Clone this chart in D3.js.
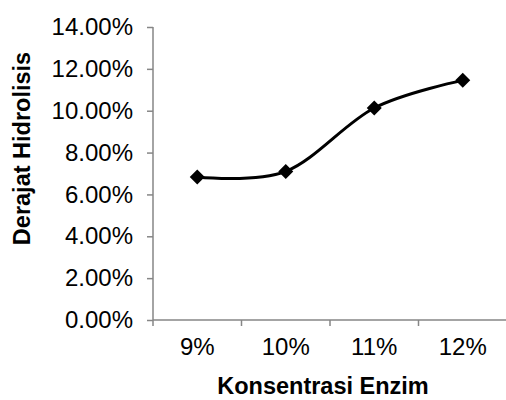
<!DOCTYPE html>
<html><head><meta charset="utf-8">
<script src="https://cdn.jsdelivr.net/npm/d3@7"></script>
<style>body{margin:0;background:#fff}svg{display:block}</style>
</head><body>
<script>
const categories = ["9%", "10%", "11%", "12%"];
const values = [0.0683, 0.0710, 0.1013, 0.1145];
const yTicks = [0, 0.02, 0.04, 0.06, 0.08, 0.10, 0.12, 0.14];
const xTitle = "Konsentrasi Enzim";
const yTitle = "Derajat Hidrolisis";

const W = 506, H = 400;
const m = {left: 153, right: 0, top: 27, bottom: 80};
const svg = d3.select("body").append("svg").attr("width", W).attr("height", H);

const x = d3.scaleBand().domain(categories).range([m.left, W - m.right + 1]);
const y = d3.scaleLinear().domain([0, 0.14]).range([H - m.bottom, m.top]);
const axisColor = "#868686";
const font = "'Liberation Sans', Arial, sans-serif";
const tickFs = 24, titleFs = 23.5;

// Y axis
const yAxis = svg.append("g").attr("transform", `translate(${m.left},0)`)
  .call(d3.axisLeft(y).tickValues(yTicks).tickFormat(d3.format(".2%")).tickSize(6).tickPadding(14));
yAxis.select(".domain").attr("stroke", axisColor).attr("stroke-width", 1.5).attr("d", `M0,${y(0.14)}V${y(0)}`);
yAxis.selectAll(".tick line").attr("stroke", axisColor).attr("stroke-width", 1.5);
yAxis.selectAll(".tick text").attr("font-family", font).attr("font-size", tickFs).attr("fill", "#000");

// X axis
const xg = svg.append("g").attr("transform", `translate(0,${y(0)})`);
xg.append("line").attr("x1", m.left).attr("x2", W).attr("stroke", axisColor).attr("stroke-width", 1.5);
d3.range(categories.length + 1).forEach(i => {
  const px = m.left + i * x.step();
  xg.append("line").attr("x1", px).attr("x2", px).attr("y1", 0).attr("y2", 6)
    .attr("stroke", axisColor).attr("stroke-width", 1.5);
});
categories.forEach(c => {
  xg.append("text").attr("x", x(c) + x.bandwidth() / 2).attr("y", 35)
    .attr("text-anchor", "middle").attr("font-family", font).attr("font-size", tickFs).text(c);
});

// Titles
svg.append("text").attr("x", 323).attr("y", 394).attr("text-anchor", "middle")
  .attr("font-family", font).attr("font-weight", "bold").attr("font-size", titleFs).text(xTitle);
svg.append("text").attr("transform", `translate(30,${148.5}) rotate(-90)`).attr("text-anchor", "middle")
  .attr("font-family", font).attr("font-weight", "bold").attr("font-size", titleFs).text(yTitle);

// Line
const pts = categories.map((c, i) => [x(c) + x.bandwidth() / 2, y(values[i])]);
svg.append("path").attr("d", d3.line().curve(d3.curveCardinal.tension(0))(pts))
  .attr("fill", "none").attr("stroke", "#000").attr("stroke-width", 3);

// Markers
svg.selectAll(".mk").data(pts).enter().append("path")
  .attr("transform", d => `translate(${d[0]},${d[1]})`)
  .attr("d", "M0,-7.5L7.5,0L0,7.5L-7.5,0Z").attr("fill", "#000");
</script>
</body></html>
